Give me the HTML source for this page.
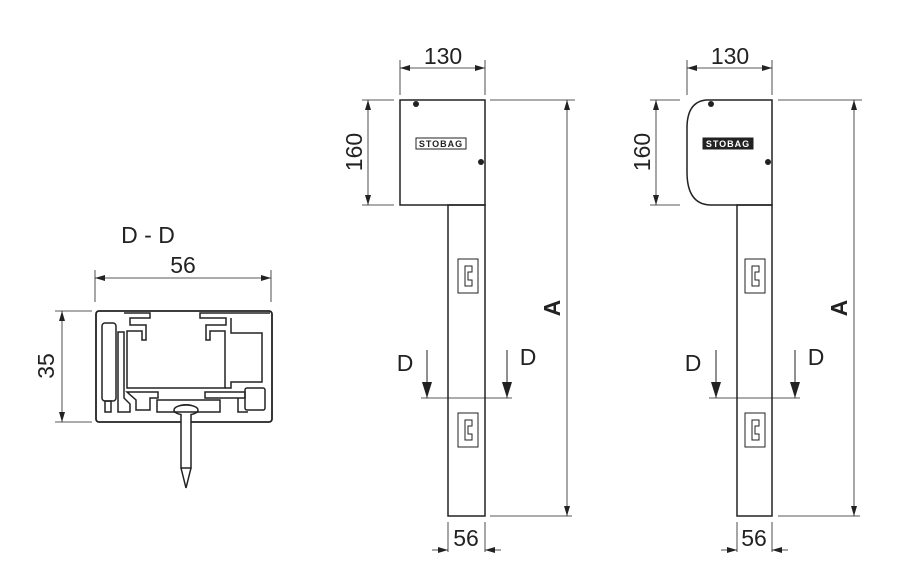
<!DOCTYPE html>
<html><head><style>
html,body{margin:0;padding:0;background:#fff;}
svg{display:block;}
text{font-family:"Liberation Sans",Arial,sans-serif;fill:#222;}
</style></head><body>
<svg width="907" height="582" viewBox="0 0 907 582" xmlns="http://www.w3.org/2000/svg">
<defs>
<marker id="ar" markerWidth="10" markerHeight="6" refX="10" refY="3" orient="auto" markerUnits="userSpaceOnUse"><path d="M0,0 L10,3 L0,6 Z" fill="#222"/></marker>
<marker id="ab" markerWidth="16" markerHeight="10" refX="16" refY="5" orient="auto" markerUnits="userSpaceOnUse"><path d="M0,0 L16,5 L0,10 Z" fill="#222"/></marker>
</defs>
<g stroke="#222" fill="none">
<!-- Section D-D -->
<text x="148" y="243" font-size="23" text-anchor="middle" stroke="none">D - D</text>
<text x="183" y="273" font-size="23" text-anchor="middle" stroke="none">56</text>
<line x1="95" y1="270" x2="95" y2="302" stroke-width="0.8"/>
<line x1="271" y1="270" x2="271" y2="302" stroke-width="0.8"/>
<line x1="183" y1="278" x2="95" y2="278" stroke-width="0.8" marker-end="url(#ar)"/>
<line x1="183" y1="278" x2="271" y2="278" stroke-width="0.8" marker-end="url(#ar)"/>
<line x1="55" y1="311" x2="92" y2="311" stroke-width="0.8"/>
<line x1="55" y1="422" x2="92" y2="422" stroke-width="0.8"/>
<line x1="62" y1="366" x2="62" y2="311" stroke-width="0.8" marker-end="url(#ar)"/>
<line x1="62" y1="366" x2="62" y2="422" stroke-width="0.8" marker-end="url(#ar)"/>
<text x="0" y="0" font-size="23" text-anchor="middle" stroke="none" transform="translate(54,366) rotate(-90)">35</text>
<rect x="96" y="311" width="176" height="111" rx="3" stroke-width="1.8"/>
<g stroke-width="1.5">
<path d="M124,313 H150 V318 H130 V325 H146 V340 H142 V331 H127 V388 H225 V331 H210 V340 H206 V325 H226 V318 H200 V313 H270"/>
<path d="M231,318 V333 H262 V382 H231 V388 H225"/>
<rect x="102" y="323" width="14" height="78" rx="3"/>
<rect x="105" y="401" width="6" height="11"/>
<path d="M118,332 V412 H130 V404 L124,398 V332 Z"/>
<path d="M127,392 H158 V398 H150 V410 H136 V400 Z"/>
<path d="M157,400 H220 V412 H198 A10,6 0 0 0 174,412 H157 Z"/>
<path d="M205,392 H245 V398 H205 Z"/>
<rect x="245" y="388" width="20" height="22" rx="2"/>
<path d="M238,398 V412 H248"/>
</g>
<!-- screw -->
<ellipse cx="186" cy="410" rx="12" ry="5" stroke-width="1.5" fill="#fff"/>
<path d="M174,412 H198" stroke-width="1.5"/>
<path d="M181,414 V468 H191 V414" stroke-width="1.5" fill="#fff"/>
<path d="M181,468 L186,488 L191,468" stroke-width="1.5"/>

<!-- Left elevation -->
<text x="443" y="64" font-size="23" text-anchor="middle" stroke="none">130</text>
<line x1="400" y1="60" x2="400" y2="95" stroke-width="0.8"/>
<line x1="485" y1="60" x2="485" y2="95" stroke-width="0.8"/>
<line x1="442" y1="68" x2="400" y2="68" stroke-width="0.8" marker-end="url(#ar)"/>
<line x1="442" y1="68" x2="485" y2="68" stroke-width="0.8" marker-end="url(#ar)"/>
<line x1="362" y1="100" x2="394" y2="100" stroke-width="0.8"/>
<line x1="362" y1="205" x2="394" y2="205" stroke-width="0.8"/>
<line x1="368" y1="152" x2="368" y2="100" stroke-width="0.8" marker-end="url(#ar)"/>
<line x1="368" y1="152" x2="368" y2="205" stroke-width="0.8" marker-end="url(#ar)"/>
<text x="0" y="0" font-size="23" text-anchor="middle" stroke="none" transform="translate(362,152) rotate(-90)">160</text>
<rect x="400" y="100" width="85" height="105" stroke-width="1.5"/>
<circle cx="416" cy="104" r="3" fill="#222" stroke="none"/>
<circle cx="481" cy="162" r="3" fill="#222" stroke="none"/>
<rect x="416" y="138" width="50" height="11" stroke-width="1"/>
<text x="441" y="147" font-size="9" font-weight="bold" text-anchor="middle" stroke="none" letter-spacing="1">STOBAG</text>
<rect x="448" y="205" width="37" height="311" stroke-width="1.5"/>
<rect x="458" y="259" width="20" height="34" stroke-width="1"/>
<path d="M472,266 H465 V286 H472 V280 H468 V272 H472 Z" stroke-width="1"/>
<rect x="458" y="413" width="20" height="34" stroke-width="1"/>
<path d="M472,420 H465 V440 H472 V434 H468 V426 H472 Z" stroke-width="1"/>
<line x1="490" y1="100" x2="575" y2="100" stroke-width="0.8"/>
<line x1="490" y1="516" x2="572" y2="516" stroke-width="0.8"/>
<line x1="567" y1="300" x2="567" y2="100" stroke-width="0.8" marker-end="url(#ar)"/>
<line x1="567" y1="300" x2="567" y2="516" stroke-width="0.8" marker-end="url(#ar)"/>
<text x="0" y="0" font-size="23" font-weight="bold" text-anchor="middle" stroke="none" transform="translate(560,308) rotate(-90)">A</text>
<line x1="421" y1="398" x2="512" y2="398" stroke-width="0.8"/>
<line x1="427" y1="350" x2="427" y2="398" stroke-width="1" marker-end="url(#ab)"/>
<line x1="507" y1="350" x2="507" y2="398" stroke-width="1" marker-end="url(#ab)"/>
<text x="405" y="371" font-size="23" text-anchor="middle" stroke="none">D</text>
<text x="528" y="365" font-size="23" text-anchor="middle" stroke="none">D</text>
<line x1="448" y1="522" x2="448" y2="552" stroke-width="0.8"/>
<line x1="485" y1="522" x2="485" y2="552" stroke-width="0.8"/>
<line x1="432" y1="550" x2="448" y2="550" stroke-width="0.8" marker-end="url(#ar)"/>
<line x1="501" y1="550" x2="485" y2="550" stroke-width="0.8" marker-end="url(#ar)"/>
<text x="466" y="546" font-size="23" text-anchor="middle" stroke="none">56</text>

<!-- Right elevation -->
<text x="730" y="64" font-size="23" text-anchor="middle" stroke="none">130</text>
<line x1="687" y1="60" x2="687" y2="95" stroke-width="0.8"/>
<line x1="772" y1="60" x2="772" y2="95" stroke-width="0.8"/>
<line x1="729" y1="68" x2="687" y2="68" stroke-width="0.8" marker-end="url(#ar)"/>
<line x1="729" y1="68" x2="772" y2="68" stroke-width="0.8" marker-end="url(#ar)"/>
<line x1="650" y1="100" x2="680" y2="100" stroke-width="0.8"/>
<line x1="650" y1="205" x2="680" y2="205" stroke-width="0.8"/>
<line x1="656" y1="152" x2="656" y2="100" stroke-width="0.8" marker-end="url(#ar)"/>
<line x1="656" y1="152" x2="656" y2="205" stroke-width="0.8" marker-end="url(#ar)"/>
<text x="0" y="0" font-size="23" text-anchor="middle" stroke="none" transform="translate(650,152) rotate(-90)">160</text>
<path d="M772,100 H706 Q687,102 687,128 V172 Q687,204 710,205 H772 Z" stroke-width="1.5"/>
<circle cx="711" cy="104" r="3" fill="#222" stroke="none"/>
<circle cx="768" cy="162" r="3" fill="#222" stroke="none"/>
<rect x="703" y="138" width="50" height="11" fill="#222" stroke-width="1"/>
<text x="728" y="147" font-size="9" font-weight="bold" text-anchor="middle" stroke="none" style="fill:#fff" letter-spacing="1">STOBAG</text>
<rect x="737" y="205" width="35" height="311" stroke-width="1.5"/>
<rect x="745" y="259" width="20" height="34" stroke-width="1"/>
<path d="M759,266 H752 V286 H759 V280 H755 V272 H759 Z" stroke-width="1"/>
<rect x="745" y="413" width="20" height="34" stroke-width="1"/>
<path d="M759,420 H752 V440 H759 V434 H755 V426 H759 Z" stroke-width="1"/>
<line x1="778" y1="100" x2="862" y2="100" stroke-width="0.8"/>
<line x1="778" y1="516" x2="860" y2="516" stroke-width="0.8"/>
<line x1="854" y1="300" x2="854" y2="100" stroke-width="0.8" marker-end="url(#ar)"/>
<line x1="854" y1="300" x2="854" y2="516" stroke-width="0.8" marker-end="url(#ar)"/>
<text x="0" y="0" font-size="23" font-weight="bold" text-anchor="middle" stroke="none" transform="translate(847,308) rotate(-90)">A</text>
<line x1="709" y1="398" x2="800" y2="398" stroke-width="0.8"/>
<line x1="716" y1="350" x2="716" y2="398" stroke-width="1" marker-end="url(#ab)"/>
<line x1="795" y1="350" x2="795" y2="398" stroke-width="1" marker-end="url(#ab)"/>
<text x="693" y="371" font-size="23" text-anchor="middle" stroke="none">D</text>
<text x="816" y="365" font-size="23" text-anchor="middle" stroke="none">D</text>
<line x1="737" y1="522" x2="737" y2="552" stroke-width="0.8"/>
<line x1="772" y1="522" x2="772" y2="552" stroke-width="0.8"/>
<line x1="721" y1="550" x2="737" y2="550" stroke-width="0.8" marker-end="url(#ar)"/>
<line x1="788" y1="550" x2="772" y2="550" stroke-width="0.8" marker-end="url(#ar)"/>
<text x="754" y="546" font-size="23" text-anchor="middle" stroke="none">56</text>
</g>
</svg>
</body></html>
